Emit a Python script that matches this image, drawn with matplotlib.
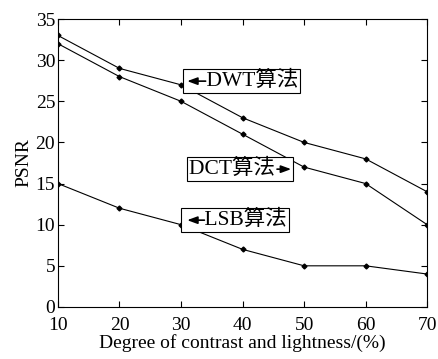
import matplotlib.pyplot as plt

plt.rcParams['font.family'] = ['Liberation Serif', 'Noto Sans CJK SC']

x = [10, 20, 30, 40, 50, 60, 70]
dwt = [33, 29, 27, 23, 20, 18, 14]
dct = [32, 28, 25, 21, 17, 15, 10]
lsb = [15, 12, 10, 7, 5, 5, 4]

ARROW = dict(arrowstyle='-|>,head_length=0.6,head_width=0.22',
             color='black', lw=1.2, shrinkA=0, shrinkB=0)
BOX = dict(boxstyle='square,pad=0.1', fc='white', ec='black', lw=0.8)
FS = 15.5


def main():
    fig = plt.figure(figsize=(4.39, 3.59), dpi=100)
    ax = fig.add_axes([0.132, 0.145, 0.841, 0.802])

    for y in (dwt, dct, lsb):
        ax.plot(x, y, color='black', lw=0.8, marker='D', ms=2.5)

    ax.set_xlim(10, 70)
    ax.set_ylim(0, 35)
    ax.set_xticks(x)
    ax.set_yticks(range(0, 36, 5))
    ax.tick_params(direction='in', top=True, right=True, labelsize=14, length=4, pad=2)
    ax.tick_params(axis='x', pad=7)
    ax.set_xlabel('Degree of contrast and lightness/(%)', fontsize=14, labelpad=0)
    ax.set_ylabel('PSNR', fontsize=14, labelpad=2)

    # DWT
    ax.text(30.6, 27.45, '    DWT算法', fontsize=FS, ha='left', va='center', bbox=BOX)
    ax.annotate('', xy=(31.0, 27.45), xytext=(34.0, 27.45), arrowprops=ARROW, zorder=5)
    # DCT
    ax.text(31.3, 16.75, 'DCT算法   ', fontsize=FS, ha='left', va='center', bbox=BOX)
    ax.annotate('', xy=(47.9, 16.75), xytext=(45.6, 16.75), arrowprops=ARROW, zorder=5)
    # LSB
    ax.text(30.4, 10.55, '    LSB算法', fontsize=FS, ha='left', va='center', bbox=BOX)
    ax.annotate('', xy=(31.0, 10.55), xytext=(33.8, 10.55), arrowprops=ARROW, zorder=5)

    fig.savefig('out.png', dpi=100)
    plt.close(fig)


if __name__ == "__main__":
    main()
